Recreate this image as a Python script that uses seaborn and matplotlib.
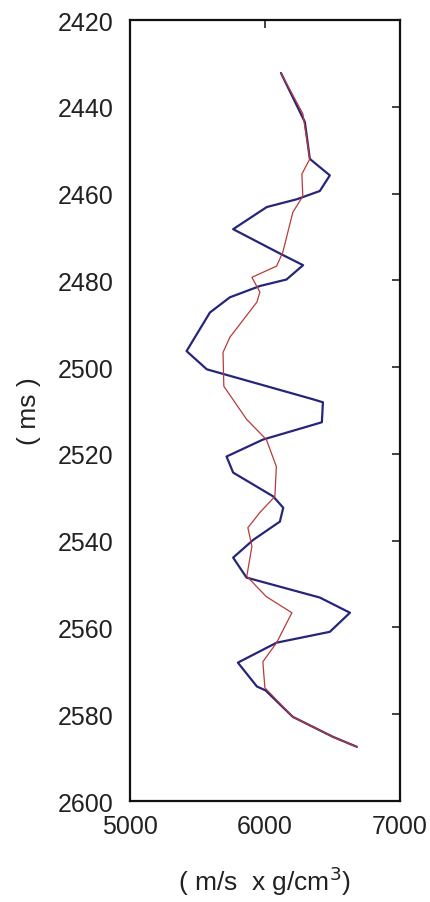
import matplotlib
matplotlib.use("Agg")
import matplotlib.pyplot as plt
import seaborn as sns
import pandas as pd

# Blue trace (raw impedance) : time (ms) and value (m/s x g/cm3)
blue_time = [2432.2, 2443.5, 2452.0, 2455.8, 2459.4, 2461.3, 2463.1, 2468.2, 2474.0,
             2476.5, 2479.8, 2481.3, 2483.9, 2487.4, 2496.3, 2500.5, 2507.4, 2508.1,
             2512.7, 2516.7, 2520.6, 2524.3, 2529.8, 2532.4, 2535.6, 2539.8, 2543.9,
             2548.5, 2553.1, 2556.6, 2561.0, 2563.5, 2568.1, 2573.6, 2574.5, 2580.6,
             2585.2, 2587.5]
blue_value = [6119, 6296, 6333, 6481, 6407, 6237, 6014, 5765, 6123,
              6283, 6160, 5963, 5741, 5593, 5420, 5570, 6356, 6430,
              6422, 5985, 5716, 5765, 6062, 6136, 6111, 5914, 5765,
              5864, 6407, 6630, 6481, 6087, 5800, 5941, 6005, 6207,
              6504, 6681]

# Red trace (smoothed impedance)
red_time = [2432.2, 2441.6, 2452.0, 2455.5, 2460.6, 2464.3, 2473.5, 2476.7, 2479.3,
            2482.7, 2485.0, 2493.1, 2496.6, 2504.4, 2512.0, 2516.7, 2522.9, 2529.8,
            2533.5, 2537.0, 2541.3, 2548.2, 2552.9, 2556.6, 2563.5, 2567.9, 2573.9,
            2580.6, 2585.2, 2587.5]
red_value = [6119, 6281, 6333, 6274, 6281, 6207, 6133, 6087, 5904,
             5963, 5941, 5741, 5690, 5696, 5864, 6011, 6085, 6074,
             5963, 5874, 5904, 5866, 6011, 6200, 6087, 5985, 6000,
             6207, 6504, 6681]

x_ticks = [5000, 6000, 7000]
y_ticks = [2420, 2440, 2460, 2480, 2500, 2520, 2540, 2560, 2580, 2600]
x_label = "( m/s  x g/cm$^3$)"
y_label = "( ms )"

sns.set_style("white")
plt.rcParams['font.family'] = ['Liberation Sans', 'DejaVu Sans']

fig = plt.figure(figsize=(4.3, 9.03), dpi=100)
ax = fig.add_axes([0.302, 0.1118, 0.628, 0.8649])

blue_df = pd.DataFrame({"t": blue_time, "v": blue_value})
red_df = pd.DataFrame({"t": red_time, "v": red_value})

sns.lineplot(data=blue_df, x="v", y="t", sort=False, estimator=None,
             color="#25257a", linewidth=1.6, ax=ax)
sns.lineplot(data=red_df, x="v", y="t", sort=False, estimator=None,
             color="#b83a3a", linewidth=0.9, ax=ax)

ax.set_xlim(5000, 7000)
ax.set_ylim(2600, 2420)
ax.set_xticks(x_ticks)
ax.set_yticks(y_ticks)
ax.set_xticklabels([str(v) for v in x_ticks])
ax.set_yticklabels([str(v) for v in y_ticks])
ax.tick_params(direction="in", length=6, width=1.2, top=True, right=True,
               labelsize=18, colors="#222222")
ax.tick_params(axis="y", pad=12)
ax.tick_params(axis="x", pad=9)
for s in ax.spines.values():
    s.set_linewidth(1.6)
    s.set_color("#111111")

ax.set_xlabel(x_label, fontsize=19, labelpad=19, color="#222222")
ax.set_ylabel(y_label, fontsize=19, labelpad=12, color="#222222")
ax.grid(False)

fig.savefig("out.png", dpi=100)
